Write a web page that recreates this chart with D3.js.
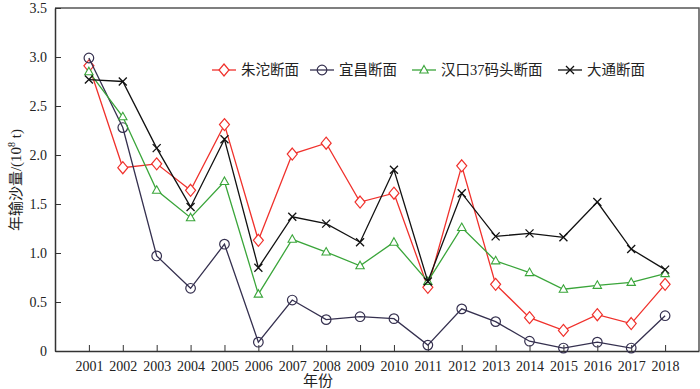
<!DOCTYPE html>
<html>
<head>
<meta charset="utf-8">
<script src="https://cdn.jsdelivr.net/npm/d3@7"></script>
<style>
  body { margin: 0; background: #fff; }
  text { font-family: "Liberation Serif", "Noto Sans CJK SC", serif; fill: #222; }
</style>
</head>
<body>
<div id="chart"></div>
<script>
const years = [2001, 2002, 2003, 2004, 2005, 2006, 2007, 2008, 2009, 2010, 2011, 2012, 2013, 2014, 2015, 2016, 2017, 2018];
const zhutuo = [2.91, 1.87, 1.91, 1.64, 2.31, 1.13, 2.01, 2.12, 1.52, 1.61, 0.65, 1.89, 0.68, 0.34, 0.21, 0.37, 0.28, 0.68];
const yichang = [2.99, 2.28, 0.97, 0.64, 1.09, 0.09, 0.52, 0.32, 0.35, 0.33, 0.06, 0.43, 0.30, 0.10, 0.03, 0.09, 0.03, 0.36];
const hankou = [2.85, 2.39, 1.64, 1.36, 1.73, 0.58, 1.14, 1.01, 0.87, 1.11, 0.71, 1.26, 0.92, 0.80, 0.63, 0.67, 0.70, 0.79];
const datong = [2.77, 2.75, 2.07, 1.47, 2.16, 0.85, 1.37, 1.30, 1.11, 1.85, 0.71, 1.61, 1.17, 1.20, 1.16, 1.52, 1.04, 0.83];
const yTicks = [0, 0.5, 1.0, 1.5, 2.0, 2.5, 3.0, 3.5];

const series = [
    { name: "朱沱断面", values: zhutuo, color: "#f0312c", marker: "diamond" },
    { name: "宜昌断面", values: yichang, color: "#35304f", marker: "circle" },
    { name: "汉口37码头断面", values: hankou, color: "#3aa53a", marker: "triangle" },
    { name: "大通断面", values: datong, color: "#111111", marker: "cross" }
];

const width = 700, height = 389;
const margin = { top: 8, right: 1, bottom: 38, left: 55 };

const svg = d3.select("#chart")
    .append("svg")
    .attr("width", width)
    .attr("height", height);

const x = d3.scaleLinear()
    .domain([2000, 2019])
    .range([margin.left, width - margin.right]);

const y = d3.scaleLinear()
    .domain([0, 3.5])
    .range([height - margin.bottom, margin.top]);

// frame top / right
svg.append("path")
    .attr("d", `M${margin.left},${margin.top}H${width - margin.right}V${height - margin.bottom}`)
    .attr("fill", "none")
    .attr("stroke", "#555")
    .attr("stroke-width", 1.5);

const xAxis = svg.append("g")
    .attr("transform", `translate(0,${height - margin.bottom})`)
    .call(d3.axisBottom(x).tickValues(years).tickFormat(d3.format("d")).tickSizeInner(-6).tickSizeOuter(0).tickPadding(10));

const yAxis = svg.append("g")
    .attr("transform", `translate(${margin.left},0)`)
    .call(d3.axisLeft(y).tickValues(yTicks)
        .tickFormat(d => d === 0 ? "0" : d3.format(".1f")(d))
        .tickSizeInner(-6).tickSizeOuter(0).tickPadding(8));

[xAxis, yAxis].forEach(g => {
    g.select(".domain").attr("stroke", "#333").attr("stroke-width", 1.5);
    g.selectAll(".tick line").attr("stroke", "#333");
    g.selectAll("text").attr("font-size", 14).attr("fill", "#222")
        .style("font-family", '"Liberation Serif", serif');
});

const line = d3.line()
    .x((d, i) => x(years[i]))
    .y(d => y(d));

function drawMarker(g, type, color) {
    if (type === "diamond") {
        g.append("path").attr("d", "M0,-6L5,0L0,6L-5,0Z")
            .attr("fill", "#fff").attr("stroke", color).attr("stroke-width", 1.2);
    } else if (type === "circle") {
        g.append("circle").attr("r", 4.8)
            .attr("fill", "none").attr("stroke", color).attr("stroke-width", 1.2);
    } else if (type === "triangle") {
        g.append("path").attr("d", "M0,-4.5L4.2,3L-4.2,3Z")
            .attr("fill", "#fff").attr("stroke", color).attr("stroke-width", 1.1);
    } else {
        g.append("path").attr("d", "M-4,-4L4,4M-4,4L4,-4")
            .attr("stroke", color).attr("stroke-width", 1.3);
    }
}

series.forEach(s => {
    svg.append("path")
        .datum(s.values)
        .attr("d", line)
        .attr("fill", "none")
        .attr("stroke", s.color)
        .attr("stroke-width", 1.3);
    svg.selectAll(null)
        .data(s.values)
        .join("g")
        .attr("transform", (d, i) => `translate(${x(years[i])},${y(d)})`)
        .each(function () { drawMarker(d3.select(this), s.marker, s.color); });
});

// legend
const legendX = [212, 310, 412, 558];
series.forEach((s, i) => {
    const g = svg.append("g").attr("transform", `translate(${legendX[i]},70)`);
    g.append("line").attr("x1", 0).attr("x2", 24)
        .attr("stroke", s.color).attr("stroke-width", 1.3);
    drawMarker(g.append("g").attr("transform", "translate(12,0)"), s.marker, s.color);
    g.append("text")
        .attr("x", 29).attr("y", 5)
        .attr("font-size", 14.5)
        .text(s.name);
});

// axis titles
svg.append("text")
    .attr("x", 318).attr("y", 386)
    .attr("text-anchor", "middle")
    .attr("font-size", 15)
    .text("年份");

const yl = svg.append("text")
    .attr("transform", "translate(21,180) rotate(-90)")
    .attr("text-anchor", "middle")
    .attr("font-size", 15);
yl.append("tspan").text("年输沙量/(10");
yl.append("tspan").attr("dy", -6).attr("font-size", 10).text("8");
yl.append("tspan").attr("dy", 6).text(" t)");
</script>
</body>
</html>
